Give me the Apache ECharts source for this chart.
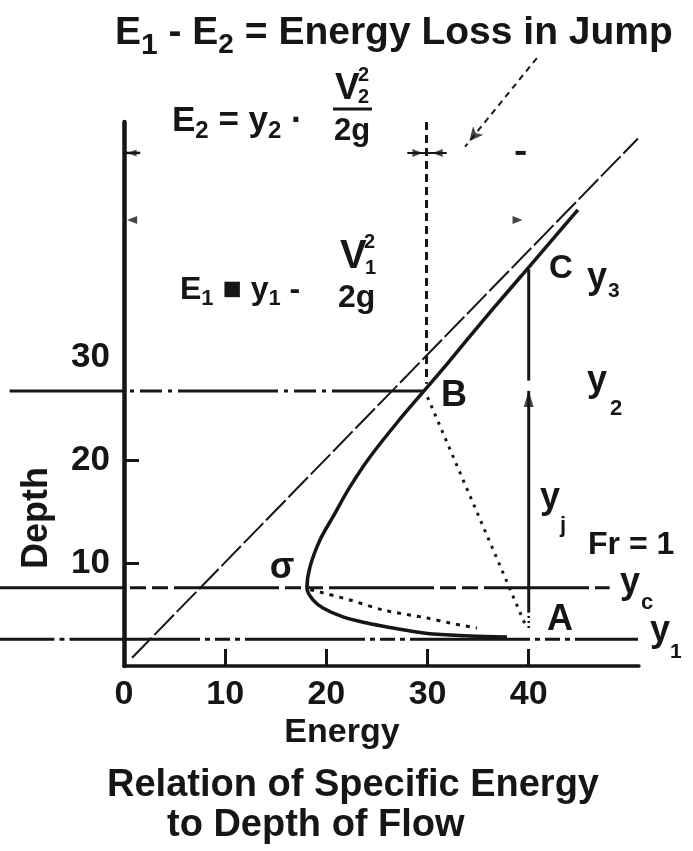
<!DOCTYPE html>
<html>
<head>
<meta charset="utf-8">
<script src="https://cdn.jsdelivr.net/npm/echarts@6/dist/echarts.min.js"></script>
<style>
  html, body { margin: 0; padding: 0; background: #ffffff; }
  #chart { width: 693px; height: 851px; }
</style>
</head>
<body>
<div id="chart"></div>
<script>
// ---- axis values ----
const energyTicks = [10, 20, 30, 40];
const energyLabels = [0, 10, 20, 30, 40];
const depthTicks = [10, 20];
const depthLabels = [10, 20, 30];
const energyMax = 50.9;
const depthMax = 52.8;
const leftMarginEnergy = -12.25;   // strip left of the depth axis where the depth lines start

// ---- specific energy curve [energy, depth]: upper branch -> critical point -> lower branch ----
const specificEnergyCurve = [
  [44.86, 44.27], [42.0, 41.0], [39.3, 37.9], [36.5, 34.7], [34.1, 31.9],
  [31.92, 29.3], [29.74, 26.80], [27.37, 24.08], [24.31, 20.29], [22.33, 17.38],
  [20.65, 14.47], [19.37, 12.23], [18.38, 9.61], [18.08, 7.57], [18.68, 6.41],
  [19.66, 5.63], [21.64, 4.76], [24.01, 4.17], [26.58, 3.69], [28.95, 3.30],
  [30.53, 3.11], [34.19, 2.91], [37.85, 2.82]
];

// E = y reference line
const equalEnergyLine = [[0.8, 0.8], [50.8, 51.2]];

// characteristic depths and where their lines start / end
const depthY1 = 2.6;
const depthYc = 7.6;
const depthY2 = 26.7;
const y1Span = [-12.3, 50.8];
const ycSpan = [-12.3, 48.0];
const y2Span = [-11.3, 29.7];

// named points
const pointA = [39.8, 3.7];
const pointB = [30.0, 26.1];

// construction lines
const energyAtB = 29.9;
const dashedVerticalB = [[energyAtB, depthMax], [energyAtB, 27.4]];
const jumpUpper = [[40, 38.5], [40, 27.7]];
const jumpArrow = [[40, 5.2], [40, 26.7]];
const jumpFoot = [[40, 3.7], [40, 5.2]];
const dottedBA = [pointB, pointA];
const dottedCritA = [
  [18.4, 7.4], [19.37, 7.18], [22.33, 6.41], [25.59, 5.44], [29.94, 4.66],
  [32.21, 4.17], [34.88, 3.69]
];

// energy dimension levels
const dimE2Depth = 49.8;
const dimE1Depth = 43.3;
const lossArrow = [[40.8, 59.0], [33.7, 50.4]];

const INK = '#161616';
const FONT_FAMILY = '"Liberation Sans", Arial, Helvetica, sans-serif';

function line(data, width, type, opts) {
  return Object.assign({
    type: 'line', data: data, symbol: 'none', clip: false, silent: true,
    animation: false, z: 3,
    lineStyle: Object.assign({ color: INK, width: width, type: type || 'solid', cap: 'butt' },
      (opts && opts.lineStyle) || {})
  }, opts && opts.series);
}
// a depth line split at the depth axis: left strip (grid 1) and plot area (grid 0)
function depthLine(span, depth, width, leftType, mainType, offset) {
  return [
    line([[span[0], depth], [0, depth]], width, leftType, { series: { xAxisIndex: 1, yAxisIndex: 1 } }),
    line([[0, depth], [span[1], depth]], width, mainType, { lineStyle: { dashOffset: offset || 0 } })
  ];
}

// arrowheads
const arrowHeads = [
  { value: [40, 26.7], symbol: 'triangle', symbolSize: [10, 16], symbolRotate: 0, symbolOffset: [0, 8] },
  { value: [33.7, 50.4], symbol: 'arrow', symbolSize: [10, 14], symbolRotate: 141, symbolOffset: [4.4, -5.4] },
  { value: [0.8, dimE2Depth], symbol: 'triangle', symbolSize: [7, 9], symbolRotate: 90 },
  { value: [29.0, dimE2Depth], symbol: 'triangle', symbolSize: [8, 10], symbolRotate: -90 },
  { value: [31.0, dimE2Depth], symbol: 'triangle', symbolSize: [8, 10], symbolRotate: 90 },
  { value: [0.8, dimE1Depth], symbol: 'triangle', symbolSize: [8, 10], symbolRotate: 90 },
  { value: [38.9, dimE1Depth], symbol: 'triangle', symbolSize: [8, 10], symbolRotate: -90 }
];

// ---- text helpers ----
const measureCtx = document.createElement('canvas').getContext('2d');
function fontOf(size) { return 'bold ' + size + 'px ' + FONT_FAMILY; }
function textWidth(t, size) { measureCtx.font = fontOf(size); return measureCtx.measureText(t).width; }

function txt(text, x, y, size, align, extra) {
  return Object.assign({
    type: 'text', silent: true, z: 10, x: x, y: y,
    style: {
      text: text, x: 0, y: 0, fill: INK, font: fontOf(size),
      textAlign: align || 'left', align: align || 'left',
      textVerticalAlign: 'middle', verticalAlign: 'middle'
    }
  }, extra || {});
}
// lays out runs of text left to right; each run: [text, size, dy, gapBefore]
function run(x, y, parts) {
  const out = [];
  let cx = x;
  parts.forEach(function (p) {
    cx += p[3] || 0;
    out.push(txt(p[0], cx, y + (p[2] || 0), p[1]));
    cx += textWidth(p[0], p[1]);
  });
  return out;
}

const graphics = [].concat(
  // heading
  run(115, 33, [['E', 39], ['1', 30, 13], [' - E', 39], ['2', 28, 12], [' = Energy Loss in Jump', 39]]),
  // E2 relation
  run(172, 121, [['E', 35], ['2', 24, 10], [' = y', 35], ['2', 24, 10], [' ·', 35]]),
  [
    txt('V', 335, 89, 37),
    txt('2', 358, 75, 20),
    txt('2', 358, 97, 20),
    { type: 'line', silent: true, z: 10, shape: { x1: 333, y1: 109, x2: 372, y2: 109 }, style: { stroke: INK, lineWidth: 3 } },
    txt('2g', 352, 131, 31, 'center')
  ],
  // E1 relation
  run(180, 290, [['E', 32], ['1', 22, 9], [' ■ y', 32], ['1', 22, 9], [' -', 32]]),
  [
    txt('V', 340, 257, 40),
    txt('2', 364, 242, 20),
    txt('1', 365, 268, 20),
    txt('2g', 338, 298, 32)
  ],
  // point labels
  [
    txt('σ', 282, 568, 36, 'center'),
    txt('B', 454, 396, 36, 'center'),
    txt('C', 561, 269, 33, 'center'),
    txt('A', 560, 620, 36, 'center'),
    txt('Fr = 1', 588, 545, 32)
  ],
  run(587, 278, [['y', 36], ['3', 21, 13, 1]]),
  run(587, 381, [['y', 36], ['2', 22, 28, 3]]),
  run(540, 498, [['y', 36], ['j', 22, 28, 0]]),
  run(620, 583, [['y', 36], ['c', 22, 20, 1]]),
  run(650, 631, [['y', 36], ['1', 21, 21, 0]]),
  // axis names and caption
  [
    txt('Depth', 37, 518, 36, 'center', { rotation: Math.PI / 2 }),
    txt('Energy', 342, 733, 34, 'center'),
    txt('Relation of Specific Energy', 107, 786, 38),
    txt('to Depth of Flow', 167, 826, 38)
  ]
);

const hiddenAxis = {
  axisLine: { show: false }, axisTick: { show: false }, axisLabel: { show: false }, splitLine: { show: false }
};

const chart = echarts.init(document.getElementById('chart'), null, { renderer: 'canvas' });

chart.setOption({
  backgroundColor: '#ffffff',
  animation: false,
  grid: [
    { left: 124, right: 54, top: 122, bottom: 185, outerBoundsMode: 'none' },
    { left: 0, width: 124, top: 122, bottom: 185, outerBoundsMode: 'none' }
  ],
  xAxis: [
    {
      type: 'value', gridIndex: 0, min: 0, max: energyMax,
      axisLine: { show: true, lineStyle: { color: INK, width: 3.5 } },
      axisTick: { show: true, inside: true, length: 17, customValues: energyTicks, lineStyle: { color: INK, width: 3 } },
      axisLabel: { customValues: energyLabels, color: INK, fontSize: 34, fontWeight: 'bold', fontFamily: FONT_FAMILY, margin: 12 },
      splitLine: { show: false }
    },
    Object.assign({ type: 'value', gridIndex: 1, min: leftMarginEnergy, max: 0 }, hiddenAxis)
  ],
  yAxis: [
    {
      type: 'value', gridIndex: 0, min: 0, max: depthMax,
      axisLine: { show: true, lineStyle: { color: INK, width: 4.5 } },
      axisTick: { show: true, inside: true, length: 15, customValues: depthTicks, lineStyle: { color: INK, width: 3 } },
      axisLabel: { customValues: depthLabels, color: INK, fontSize: 35, fontWeight: 'bold', fontFamily: FONT_FAMILY, margin: 14 },
      splitLine: { show: false }
    },
    Object.assign({ type: 'value', gridIndex: 1, min: 0, max: depthMax }, hiddenAxis)
  ],
  series: [].concat(
    [
      line(specificEnergyCurve, 3.5, 'solid', { series: { smooth: 0.35, z: 5 } }),
      line(equalEnergyLine, 2, [28, 4])
    ],
    depthLine(y1Span, depthY1, 3, [55, 5, 5, 5, 200], [120, 5, 5, 5, 15, 5, 5, 5], 44),
    depthLine(ycSpan, depthYc, 3, 'solid', [105, 6, 16, 6, 16, 6], 105),
    depthLine(y2Span, depthY2, 3, 'solid', [100, 6, 4, 6, 22, 6, 4, 6], 100),
    [
      line(dashedVerticalB, 3, [8, 5]),
      line(jumpUpper, 3),
      line(jumpArrow, 3),
      line(jumpFoot, 2.5, [2, 3]),
      line(dottedBA, 3, [3, 6]),
      line(dottedCritA, 3, [4, 6], { series: { smooth: 0.3 } }),
      line(lossArrow, 2, [6, 5]),
      line([[0, dimE2Depth], [1.6, dimE2Depth]], 2.5),
      line([[28.0, dimE2Depth], [31.9, dimE2Depth]], 2),
      line([[38.7, dimE2Depth], [39.7, dimE2Depth]], 4),
      {
        type: 'scatter', data: arrowHeads, clip: false, silent: true, animation: false, z: 6,
        itemStyle: { color: INK }
      }
    ]
  ),
  graphic: graphics
});
</script>
</body>
</html>
